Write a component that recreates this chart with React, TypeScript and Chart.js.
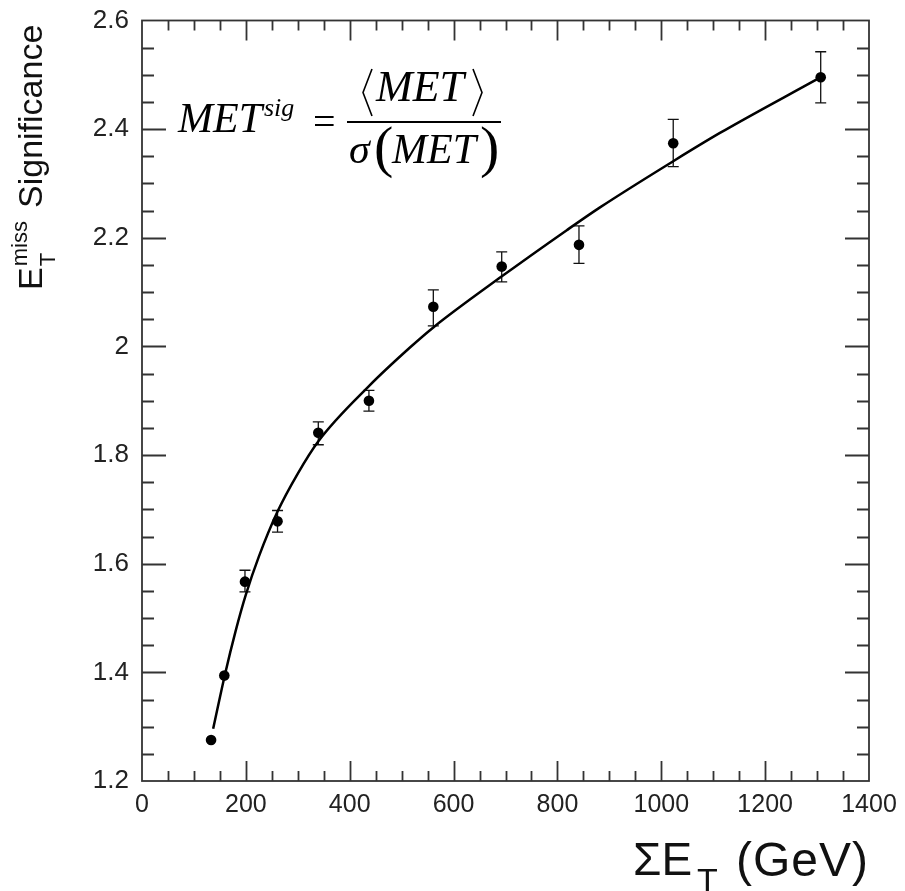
import { useEffect, useRef } from 'react';
import { Chart, registerables } from 'chart.js';
Chart.register(...registerables);

// measured points (ΣE_T in GeV, significance)
const sumET = [133, 158.5, 198.3, 261, 339.5, 437, 561, 692.7, 841.5, 1023, 1307];
const significance = [1.2755, 1.394, 1.567, 1.678, 1.841, 1.9, 2.073, 2.147, 2.187, 2.374, 2.4955];
const errUp = [0.004, 0.004, 0.021, 0.02, 0.02, 0.019, 0.031, 0.027, 0.035, 0.044, 0.047];
const errDown = [0.004, 0.004, 0.019, 0.02, 0.022, 0.019, 0.035, 0.028, 0.034, 0.043, 0.047];

// fitted curve
const fitX = [137, 160, 180, 200, 225, 261, 300, 340, 437, 516, 561, 693, 818, 882, 1023, 1113, 1302];
const fitY = [1.296, 1.397, 1.475, 1.543, 1.613, 1.696, 1.766, 1.826, 1.927, 1.998, 2.035, 2.129, 2.214, 2.256, 2.341, 2.393, 2.493];

const xTickValues = [0, 200, 400, 600, 800, 1000, 1200, 1400];
const yTickValues = [1.2, 1.4, 1.6, 1.8, 2, 2.2, 2.4, 2.6];

const SANS = '"Liberation Sans", Arial, Helvetica, sans-serif';
const SERIF = '"Liberation Serif", "Times New Roman", serif';

const decorPlugin = {
  id: 'decor',
  beforeDatasetsDraw(chart: any) {
    const ctx = chart.ctx;
    const xs = chart.scales.x;
    const ys = chart.scales.y;
    ctx.save();
    ctx.strokeStyle = '#111';
    ctx.lineWidth = 1.3;
    for (let i = 0; i < sumET.length; i++) {
      const px = xs.getPixelForValue(sumET[i]);
      const top = ys.getPixelForValue(significance[i] + errUp[i]);
      const bot = ys.getPixelForValue(significance[i] - errDown[i]);
      if (bot - top < 12) continue;
      ctx.beginPath();
      ctx.moveTo(px, top);
      ctx.lineTo(px, bot);
      ctx.moveTo(px - 5.5, top);
      ctx.lineTo(px + 5.5, top);
      ctx.moveTo(px - 5.5, bot);
      ctx.lineTo(px + 5.5, bot);
      ctx.stroke();
    }
    ctx.restore();
  },
  afterDraw(chart: any) {
    const ctx = chart.ctx;
    const { left, right, top, bottom } = chart.chartArea;
    const xs = chart.scales.x;
    const ys = chart.scales.y;
    ctx.save();
    ctx.strokeStyle = '#333';
    ctx.lineWidth = 1.8;
    ctx.strokeRect(left, top, right - left, bottom - top);
    ctx.beginPath();
    for (let v = 50; v < 1400; v += 50) {
      const px = Math.round(xs.getPixelForValue(v)) + 0.5;
      const len = v % 200 === 0 ? 20 : 10;
      ctx.moveTo(px, bottom);
      ctx.lineTo(px, bottom - len);
      ctx.moveTo(px, top);
      ctx.lineTo(px, top + len);
    }
    for (let k = 1; k < 28; k++) {
      const v = 1.2 + k * 0.05;
      const py = Math.round(ys.getPixelForValue(v)) + 0.5;
      const len = k % 4 === 0 ? 24 : 12;
      ctx.moveTo(left, py);
      ctx.lineTo(left + len, py);
      ctx.moveTo(right, py);
      ctx.lineTo(right - len, py);
    }
    ctx.stroke();

    // axis titles
    ctx.fillStyle = '#111';
    ctx.textAlign = 'left';
    ctx.textBaseline = 'alphabetic';
    // x title
    ctx.font = `46px ${SANS}`;
    ctx.fillText('\u03A3E', 633, 875);
    ctx.font = `34px ${SANS}`;
    ctx.fillText('T', 697, 892);
    ctx.font = `48px ${SANS}`;
    try { (ctx as any).letterSpacing = '1px'; } catch (e) {}
    ctx.fillText('(GeV)', 736, 876);
    try { (ctx as any).letterSpacing = '0px'; } catch (e) {}

    // y title (rotated)
    ctx.save();
    ctx.translate(42, 290);
    ctx.rotate(-Math.PI / 2);
    ctx.font = `34px ${SANS}`;
    ctx.fillText('E', 0, 0);
    const wE = ctx.measureText('E').width;
    ctx.font = `22px ${SANS}`;
    ctx.fillText('T', wE + 1, 13);
    ctx.fillText('miss', wE + 1, -15);
    ctx.font = `34px ${SANS}`;
    ctx.fillText('Significance', 82, 0);
    ctx.restore();

    // formula
    ctx.fillStyle = '#000';
    ctx.strokeStyle = '#000';
    ctx.font = `italic 42px ${SERIF}`;
    ctx.fillText('MET', 178, 132);
    ctx.font = `italic 26px ${SERIF}`;
    ctx.fillText('sig', 264, 116);
    ctx.font = `40px ${SERIF}`;
    ctx.fillText('=', 313, 135);
    ctx.lineWidth = 2;
    ctx.beginPath();
    ctx.moveTo(347, 122);
    ctx.lineTo(501, 122);
    ctx.stroke();
    // numerator
    ctx.font = `italic 44px ${SERIF}`;
    ctx.fillText('MET', 376, 101);
    ctx.lineWidth = 1.6;
    ctx.beginPath();
    ctx.moveTo(372, 69);
    ctx.lineTo(363, 92.5);
    ctx.lineTo(372, 116);
    ctx.moveTo(473, 69);
    ctx.lineTo(482, 92.5);
    ctx.lineTo(473, 116);
    ctx.stroke();
    // denominator
    ctx.font = `italic 42px ${SERIF}`;
    ctx.fillText('\u03C3', 349, 163);
    ctx.font = `58px ${SERIF}`;
    ctx.fillText('(', 374, 166);
    ctx.font = `italic 42px ${SERIF}`;
    ctx.fillText('MET', 392, 163);
    ctx.font = `58px ${SERIF}`;
    ctx.fillText(')', 480, 166);
    ctx.restore();
  },
};

export default function App() {
  const ref = useRef<HTMLCanvasElement | null>(null);
  useEffect(() => {
    document.body.style.margin = '0';
    const canvas = ref.current;
    if (!canvas) return;
    const chart = new Chart(canvas, {
      type: 'scatter',
      data: {
        datasets: [
          {
            type: 'line',
            label: 'fit',
            data: fitX.map((x, i) => ({ x, y: fitY[i] })),
            borderColor: '#000',
            borderWidth: 2.5,
            pointRadius: 0,
            cubicInterpolationMode: 'monotone',
            fill: false,
          } as any,
          {
            type: 'scatter',
            label: 'data',
            data: sumET.map((x, i) => ({ x, y: significance[i] })),
            backgroundColor: '#000',
            borderColor: '#000',
            pointRadius: 5.3,
            pointBorderWidth: 0,
          } as any,
        ],
      },
      options: {
        responsive: false,
        animation: false,
        devicePixelRatio: 1,
        layout: { padding: { top: 20.5, right: 36, left: 0, bottom: 0 } },
        plugins: { legend: { display: false }, tooltip: { enabled: false } },
        scales: {
          x: {
            type: 'linear',
            min: 0,
            max: 1400,
            afterFit: (s: any) => { s.height = 110; },
            afterBuildTicks: (s: any) => { s.ticks = xTickValues.map((v) => ({ value: v })); },
            grid: { display: false, drawTicks: false },
            border: { display: false },
            ticks: {
              padding: 0,
              color: '#222',
              font: { family: SANS, size: 25, lineHeight: 1.96 },
              maxRotation: 0,
              callback: (v: any) => String(v),
            },
          },
          y: {
            type: 'linear',
            min: 1.2,
            max: 2.6,
            afterFit: (s: any) => { s.width = 142; },
            afterBuildTicks: (s: any) => { s.ticks = yTickValues.map((v) => ({ value: v })); },
            grid: { display: false, drawTicks: false },
            border: { display: false },
            ticks: {
              padding: 13,
              color: '#222',
              font: { family: SANS, size: 26, lineHeight: 0.5 },
              callback: (v: any) => String(parseFloat(Number(v).toFixed(1))),
            },
          },
        },
      } as any,
      plugins: [decorPlugin],
    });
    return () => chart.destroy();
  }, []);
  return (
    <div style={{ width: 905, height: 891, position: 'relative', background: '#fff' }}>
      <canvas ref={ref} width={905} height={891} style={{ display: 'block', width: 905, height: 891 }} />
    </div>
  );
}
